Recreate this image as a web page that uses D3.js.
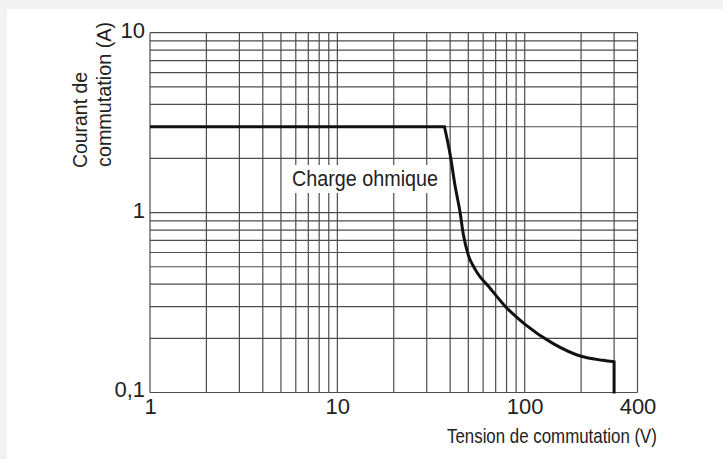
<!DOCTYPE html>
<html>
<head>
<meta charset="utf-8">
<script src="https://cdn.jsdelivr.net/npm/d3@7"></script>
<style>
  body { margin: 0; background: #fff; }
  svg { display: block; }
  text { fill: #222; }
</style>
</head>
<body>
<svg width="723" height="459"></svg>
<script>
// grid values (log-log chart)
const xGrid = [1, 2, 3, 4, 5, 6, 7, 8, 9, 10, 20, 30, 40, 50, 60, 70, 80, 90, 100, 200, 300, 400];
const yGrid = [0.1, 0.2, 0.3, 0.4, 0.5, 0.6, 0.7, 0.8, 0.9, 1, 2, 3, 4, 5, 6, 7, 8, 9, 10];
const xTicks = [1, 10, 100, 400];
const xTickLabels = ['1', '10', '100', '400'];
const yTicks = [0.1, 1, 10];
const yTickLabels = ['0,1', '1', '10'];

// curve "Charge ohmique" : tension (V) / courant (A)
const flatPart = [[1, 3], [37.3, 3]];
const curveVolts = [37.3, 40, 42.5, 45.2, 47, 50, 54, 66, 79, 100, 142, 200, 261, 300];
const curveAmps = [3, 2.1, 1.41, 1.0, 0.76, 0.58, 0.49, 0.375, 0.3, 0.24, 0.187, 0.159, 0.151, 0.148];
const dropPart = [[300, 0.148], [300, 0.1]];

let svg = d3.select('svg');

// light frame like the scan
svg.append('rect').attr('x', 0).attr('y', 0).attr('width', 723).attr('height', 9).attr('fill', '#f2f2f2');
svg.append('rect').attr('x', 0).attr('y', 0).attr('width', 7).attr('height', 459).attr('fill', '#f2f2f2');

const x = d3.scaleLog().domain([1, 400]).range([150, 637.5]);
const y = d3.scaleLog().domain([0.1, 10]).range([392.5, 32.7]);

const grid = svg.append('g').attr('stroke', '#4d4d4d').attr('stroke-width', 1.2);

grid.selectAll('line.v')
  .data(xGrid)
  .enter()
  .append('line')
  .attr('class', 'v')
  .attr('x1', d => x(d)).attr('x2', d => x(d))
  .attr('y1', y(0.1)).attr('y2', y(10));

grid.selectAll('line.h')
  .data(yGrid)
  .enter()
  .append('line')
  .attr('class', 'h')
  .attr('x1', x(1)).attr('x2', x(400))
  .attr('y1', d => y(d)).attr('y2', d => y(d));

// white box behind the label cuts the grid
svg.append('rect')
  .attr('x', 286).attr('y', 165)
  .attr('width', 160).attr('height', 28)
  .attr('fill', '#fff');

const titleFont = '"Liberation Sans Narrow", "Liberation Sans", sans-serif';

svg.append('text')
  .attr('x', 292).attr('y', 186)
  .attr('textLength', 146)
  .attr('lengthAdjust', 'spacingAndGlyphs')
  .style('font-family', titleFont)
  .style('font-size', '22px')
  .text('Charge ohmique');

// curve
const line = d3.line()
  .x(d => x(d[0]))
  .y(d => y(d[1]))
  .curve(d3.curveMonotoneX);

const middle = line(curveVolts.map((v, i) => [v, curveAmps[i]]));
const pathStr = 'M' + x(flatPart[0][0]) + ',' + y(flatPart[0][1]) +
  middle.replace(/^M/, 'L') +
  'L' + x(dropPart[1][0]) + ',' + (y(dropPart[1][1]) + 1);

svg.append('path')
  .attr('d', pathStr)
  .attr('fill', 'none')
  .attr('stroke', '#111')
  .attr('stroke-width', 3)
  .attr('stroke-linejoin', 'miter');

// axes (labels only)
const xAxis = d3.axisBottom(x)
  .tickValues(xTicks)
  .tickFormat((d, i) => xTickLabels[i])
  .tickSize(0)
  .tickPadding(0);

const gx = svg.append('g')
  .attr('transform', 'translate(0,' + 398 + ')')
  .call(xAxis);
gx.select('.domain').remove();
gx.selectAll('text')
  .attr('dy', '0.71em')
  .style('font-family', '"Liberation Sans", sans-serif')
  .style('font-size', '22px')
  .style('fill', '#222');

const yAxis = d3.axisLeft(y)
  .tickValues(yTicks)
  .tickFormat((d, i) => yTickLabels[i])
  .tickSize(0)
  .tickPadding(0);

const gy = svg.append('g')
  .attr('transform', 'translate(145,0)')
  .call(yAxis);
gy.select('.domain').remove();
gy.selectAll('text')
  .attr('dy', '0.2em')
  .style('font-family', '"Liberation Sans", sans-serif')
  .style('font-size', '22px')
  .style('fill', '#222');

// titles
svg.append('text')
  .attr('x', 447).attr('y', 443)
  .attr('textLength', 210)
  .attr('lengthAdjust', 'spacingAndGlyphs')
  .style('font-family', titleFont)
  .style('font-size', '21px')
  .text('Tension de commutation (V)');

svg.append('text')
  .attr('transform', 'translate(86.5,168) rotate(-90)')
  .attr('textLength', 96)
  .attr('lengthAdjust', 'spacingAndGlyphs')
  .style('font-family', titleFont)
  .style('font-size', '21px')
  .text('Courant de');

svg.append('text')
  .attr('transform', 'translate(110.5,167) rotate(-90)')
  .attr('textLength', 145)
  .attr('lengthAdjust', 'spacingAndGlyphs')
  .style('font-family', titleFont)
  .style('font-size', '21px')
  .text('commutation (A)');
</script>
</body>
</html>
